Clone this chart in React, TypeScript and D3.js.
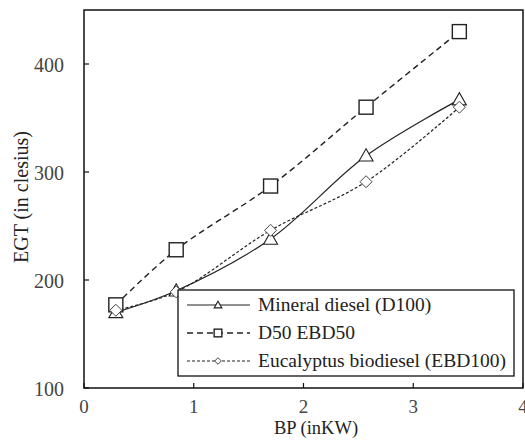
import React from "react";
import * as d3 from "d3";

const bp = [0.29, 0.84, 1.7, 2.57, 3.42];
const mineral = [170, 190, 238, 315, 367];
const d50 = [177, 228, 287, 360, 430];
const euc = [172, 189, 246, 291, 360];
const seriesNames = ["Mineral diesel (D100)", "D50 EBD50", "Eucalyptus biodiesel (EBD100)"];
const xTicks = [0, 1, 2, 3, 4];
const yTicks = [100, 200, 300, 400];

const W = 525, H = 446;
const L = 84, R = 523, T = 10, B = 388;
const FONT = "'Liberation Serif', 'Times New Roman', serif";

function marker(kind: string, x: number, y: number, key: string, k = 1) {
  if (kind === "tri") {
    const s = 7 * k;
    return <path key={key} d={`M${x},${y - s} L${x + s},${y + s * 0.75} L${x - s},${y + s * 0.75} Z`} fill="white" stroke="#222" strokeWidth={1.1} />;
  }
  if (kind === "sq") {
    const s = 7 * k;
    return <rect key={key} x={x - s} y={y - s} width={2 * s} height={2 * s} fill="white" stroke="#222" strokeWidth={1.4} />;
  }
  const s = 6 * k;
  return <path key={key} d={`M${x},${y - s} L${x + s},${y} L${x},${y + s} L${x - s},${y} Z`} fill="white" stroke="#444" strokeWidth={1} />;
}

export default function App() {
  const x = d3.scaleLinear().domain([0, 4]).range([L, R]);
  const y = d3.scaleLinear().domain([100, 450]).range([B, T]);
  const line = d3.line<[number, number]>().x(d => x(d[0])).y(d => y(d[1])).curve(d3.curveCatmullRom.alpha(0.5));
  const series = [
    { vals: mineral, dash: undefined as string | undefined, m: "tri", w: 1.2 },
    { vals: d50, dash: "6,4", m: "sq", w: 1.4 },
    { vals: euc, dash: "3,2", m: "dia", w: 1.2 },
  ];
  const legY = [305, 333, 361];
  return (
    <svg width={W} height={H} style={{ position: "absolute", left: 0, top: 0, fontFamily: FONT }}>
      <rect x={0} y={0} width={W} height={H} fill="white" />
      {series.map((s, i) => (
        <path key={"l" + i} d={line(bp.map((b, j) => [b, s.vals[j]] as [number, number])) || ""} fill="none" stroke="#222" strokeWidth={s.w} strokeDasharray={s.dash} />
      ))}
      {series.map((s, i) => s.vals.map((v, j) => marker(s.m, x(bp[j]), y(v), `m${i}-${j}`)))}
      <rect x={178} y={290} width={336} height={86} fill="white" stroke="#111" strokeWidth={1.3} />
      {series.map((s, i) => (
        <g key={"lg" + i}>
          <line x1={187} x2={250} y1={legY[i]} y2={legY[i]} stroke="#222" strokeWidth={s.w} strokeDasharray={s.dash} />
          {marker(s.m, 218, legY[i], "lm" + i, 0.55)}
          <text x={258} y={legY[i] + 6} fontSize={19.5} fill="#222" style={{ fontFamily: FONT }}>{seriesNames[i]}</text>
        </g>
      ))}
      <rect x={L} y={T} width={R - L} height={B - T} fill="none" stroke="#111" strokeWidth={1.5} />
      {xTicks.map(t => (
        <g key={"xt" + t}>
          <line x1={x(t)} x2={x(t)} y1={B} y2={B - 5} stroke="#111" strokeWidth={1.2} />
          <text x={x(t)} y={413} fontSize={19} textAnchor="middle" fill="#444" style={{ fontFamily: FONT }}>{t}</text>
        </g>
      ))}
      {yTicks.map(t => (
        <g key={"yt" + t}>
          <line x1={L} x2={L + 5} y1={y(t)} y2={y(t)} stroke="#111" strokeWidth={1.2} />
          <text x={64} y={y(t) + 8} fontSize={20} textAnchor="end" fill="#444" style={{ fontFamily: FONT }}>{t}</text>
        </g>
      ))}
      <text x={316} y={434} fontSize={18.5} textAnchor="middle" fill="#222" style={{ fontFamily: FONT }}>BP  (inKW)</text>
      <text transform={`translate(28,197) rotate(-90)`} fontSize={20} textAnchor="middle" fill="#222" style={{ fontFamily: FONT }}>EGT  (in clesius)</text>
    </svg>
  );
}
